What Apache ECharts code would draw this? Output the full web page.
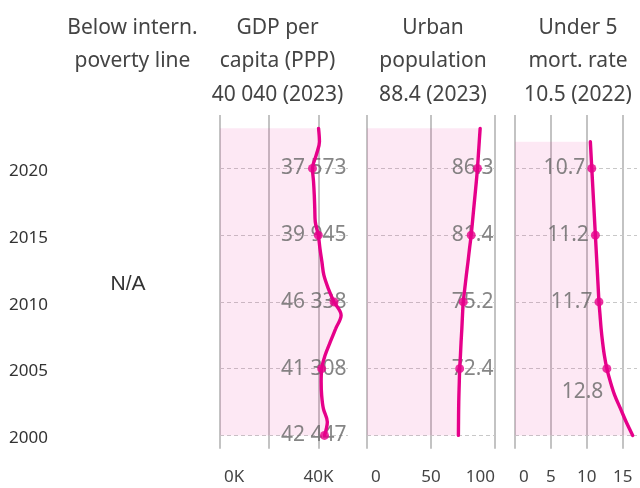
<!DOCTYPE html>
<html><head><meta charset="utf-8">
<script src="https://cdn.jsdelivr.net/npm/echarts@6.0.0/dist/echarts.min.js"></script>
<style>html,body{margin:0;padding:0;background:#fff;}#chart{width:640px;height:488px;}</style>
</head><body><div id="chart"></div>
<script>
// ---------- data ----------
const axisYears = [1999,2000,2001,2002,2003,2004,2005,2006,2007,2008,2009,2010,2011,2012,2013,2014,2015,2016,2017,2018,2019,2020,2021,2022,2023,2024];
const years = [2000,2001,2002,2003,2004,2005,2006,2007,2008,2009,2010,2011,2012,2013,2014,2015,2016,2017,2018,2019,2020,2021,2022,2023];
const gdpValues = [42447,43600,42000,41300,41100,41308,42700,44800,47000,49200,46338,44000,42200,41400,40600,39945,38700,38500,38300,38000,37573,39100,40400,40040];
const urbanValues = [71.4,71.5,71.6,71.8,72.1,72.4,73.0,73.5,74.1,74.6,75.2,76.4,77.6,78.9,80.1,81.4,82.4,83.4,84.4,85.4,86.3,87.0,87.7,88.4];
const mortYears = [2000,2001,2002,2003,2004,2005,2006,2007,2008,2009,2010,2011,2012,2013,2014,2015,2016,2017,2018,2019,2020,2021,2022];
const mortValues = [16.4,15.5,14.7,13.9,13.3,12.8,12.45,12.2,12.0,11.85,11.7,11.6,11.5,11.4,11.3,11.2,11.1,11.0,10.9,10.8,10.7,10.6,10.5];

const yearTickLabels = [2000,2005,2010,2015,2020];
const gdpDotYears = [2000,2005,2010,2015,2020];
const gdpDotValues = [42447,41308,46338,39945,37573];
const urbanDotYears = [2005,2010,2015,2020];
const urbanDotValues = [72.4,75.2,81.4,86.3];
const mortDotYears = [2005,2010,2015,2020];
const mortDotValues = [12.8,11.7,11.2,10.7];

const gdpGridTicks = [0,20000,40000];
const gdpTickLabels = [0,40000];
const urbanGridTicks = [0,50,100];
const urbanTickLabels = [0,50,100];
const mortGridTicks = [0,5,10,15];
const mortTickLabels = [0,5,10,15];

const headerPoverty = ['Below intern.','poverty line'];
const headerGdp = ['GDP per','capita (PPP)'];
const headerUrban = ['Urban','population'];
const headerMort = ['Under 5','mort. rate'];
const povertyText = 'N/A';

// ---------- styling ----------
const FONT = '"Noto Sans", sans-serif';
const PINK = '#e6008a';
const AREA = 'rgba(230,0,138,0.13)';
const GRID_TOP = 115, GRID_H = 333.75;

function fmtThousands(v){ return String(v).replace(/\B(?=(\d{3})+(?!\d))/g,' '); }
function fmtK(v){ return (v/1000) + 'K'; }
function fmtPlain(v){ return String(v); }

const chart = echarts.init(document.getElementById('chart'), null, {renderer:'canvas'});

const panels = [
  {left:220, width:128, max:52000, interval:20000, grid:gdpGridTicks, labels:gdpTickLabels, tickFmt:fmtK, alignMax:'center',
   years:years, values:gdpValues, dotYears:gdpDotYears, dotValues:gdpDotValues, valFmt:fmtThousands, labelMode:'edge'},
  {left:367, width:128, max:100, interval:50, grid:urbanGridTicks, labels:urbanTickLabels, tickFmt:fmtPlain, alignMax:'right',
   years:years, values:urbanValues, dotYears:urbanDotYears, dotValues:urbanDotValues, valFmt:fmtPlain, labelMode:'edge'},
  {left:515, width:124, max:17, interval:5, grid:mortGridTicks, labels:mortTickLabels, tickFmt:fmtPlain, alignMax:'center',
   years:mortYears, values:mortValues, dotYears:mortDotYears, dotValues:mortDotValues, valFmt:fmtPlain, labelMode:'dot'}
];

const grids = [{left:9, width:191, top:GRID_TOP, height:GRID_H}];
const xAxes = [{gridIndex:0, type:'value', show:false, min:0, max:1}];
const yAxes = [{
  gridIndex:0, type:'category', data:axisYears.map(String), boundaryGap:false,
  axisLine:{show:false}, axisTick:{show:false}, splitLine:{show:false},
  axisLabel:{inside:true, margin:0, align:'left', color:'#333', fontSize:17, fontFamily:FONT,
    interval:(i, v)=> yearTickLabels.indexOf(+v) >= 0,
    formatter:(v)=>'{y|'+v+'}',
    rich:{y:{padding:[6,0,0,0], color:'#333', fontSize:17, fontFamily:FONT}}}
}];
const series = [];

panels.forEach((p, k) => {
  const gi = k + 1;
  grids.push({left:p.left, width:p.width, top:GRID_TOP, height:GRID_H});
  xAxes.push({
    gridIndex:gi, type:'value', min:0, max:p.max, interval:p.interval,
    axisLine:{show:false}, axisTick:{show:false}, splitLine:{show:false},
    axisLabel:{margin:20, color:'#444', fontSize:17, fontFamily:FONT,
      alignMinLabel:'left', alignMaxLabel:p.alignMax,
      formatter:(v)=>{ if (p.labels.indexOf(v) < 0) return ''; const t = p.tickFmt(v); return v === p.labels[0] ? '{p|'+t+'}' : t; },
      rich:{p:{padding:[0,0,0,4], color:'#444', fontSize:17, fontFamily:FONT}}
    }
  });
  yAxes.push({gridIndex:gi, type:'category', data:axisYears.map(String), boundaryGap:false, show:false});

  const pairs = p.years.map((y,i)=>[p.values[i], String(y)]);
  // grid lines
  series.push({
    type:'line', xAxisIndex:gi, yAxisIndex:gi, data:[], silent:true, z:1,
    markLine:{
      silent:true, symbol:['none','none'], z:1, animation:false, label:{show:false},
      data: p.grid.map(v=>({xAxis:v, lineStyle:{color:'#b4b4b4', width:1.6, type:'solid'}}))
        .concat(yearTickLabels.map(y=>({yAxis:String(y), lineStyle:{color:'#c8c8c8', width:1.2, type:[4,3]}})))
    }
  });
  // area under the curve
  series.push({
    type:'line', xAxisIndex:gi, yAxisIndex:gi, data:pairs, smooth:0.35, showSymbol:false, silent:true, z:2,
    lineStyle:{width:0, color:'rgba(0,0,0,0)'}, areaStyle:{color:AREA, origin:'start'}
  });
  // value labels
  if (p.labelMode === 'edge') {
    series.push({
      type:'scatter', xAxisIndex:gi, yAxisIndex:gi, z:3, silent:true, symbolSize:1,
      itemStyle:{color:'rgba(0,0,0,0)'},
      data:p.dotYears.map((y,i)=>[p.max, String(y), p.dotValues[i]]),
      label:{show:true, position:'left', distance:1, color:'#666', fontSize:21, fontFamily:FONT,
        formatter:(d)=>p.valFmt(d.value[2])}
    });
  }
  // line
  series.push({
    type:'line', xAxisIndex:gi, yAxisIndex:gi, data:pairs, smooth:0.35, showSymbol:false, silent:true, z:4,
    lineStyle:{width:3.4, color:PINK, cap:'round'}
  });
  // dots
  series.push({
    type:'scatter', xAxisIndex:gi, yAxisIndex:gi, z:5, silent:true, symbolSize:9,
    itemStyle:{color:PINK},
    data:p.dotYears.map((y,i)=>{
      const item = {value:[p.dotValues[i], String(y)]};
      if (p.labelMode === 'dot') {
        item.label = {show:true, position:'left', distance:2, color:'#666', fontSize:21, fontFamily:FONT,
          formatter:p.valFmt(p.dotValues[i])};
        if (i === 0) { item.label.position = [1, 28]; item.label.align = 'right'; item.label.verticalAlign = 'middle'; }
      }
      return item;
    })
  });
});

function header(cx, lines){
  return {type:'text', x:cx, y:11.25, silent:true,
    style:{text:lines.join('\n'), align:'center', verticalAlign:'top', lineHeight:33.5,
      fontSize:21, fontFamily:FONT, fill:'#444'}};
}
const gdpLast = gdpValues[gdpValues.length-1], gdpLastYear = years[years.length-1];
const urbanLast = urbanValues[urbanValues.length-1], urbanLastYear = years[years.length-1];
const mortLast = mortValues[mortValues.length-1], mortLastYear = mortYears[mortYears.length-1];

chart.setOption({
  animation:false,
  grid:grids, xAxis:xAxes, yAxis:yAxes, series:series,
  graphic:[
    header(132.5, headerPoverty),
    header(277.5, headerGdp.concat([fmtThousands(gdpLast)+' ('+gdpLastYear+')'])),
    header(433, headerUrban.concat([urbanLast.toFixed(1)+' ('+urbanLastYear+')'])),
    header(578, headerMort.concat([mortLast.toFixed(1)+' ('+mortLastYear+')'])),
    {type:'text', x:128, y:284, silent:true,
     style:{text:povertyText, align:'center', verticalAlign:'middle', fontSize:21, fontFamily:'"Liberation Sans", Arial, sans-serif', fill:'#333'}}
  ]
});
</script>
</body></html>
